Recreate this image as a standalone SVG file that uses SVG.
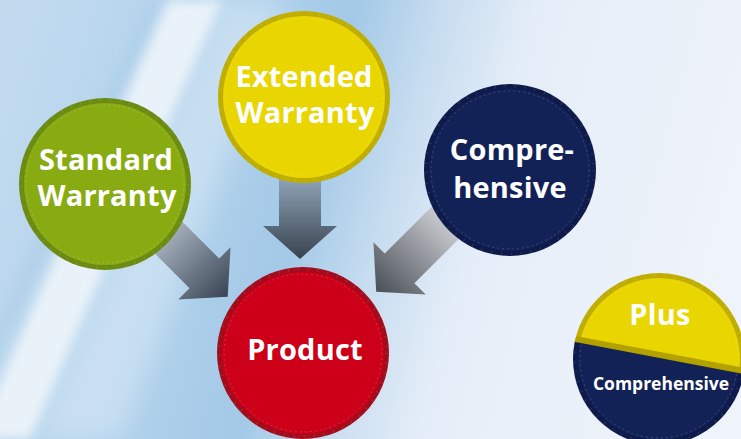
<svg xmlns="http://www.w3.org/2000/svg" width="741" height="439" viewBox="0 0 741 439">
<defs>
<linearGradient id="bgGrad" gradientUnits="userSpaceOnUse" x1="0" y1="0" x2="741" y2="203">
<stop offset="0" stop-color="#c3dbef"/>
<stop offset="0.3" stop-color="#b0d1eb"/>
<stop offset="0.45" stop-color="#a3c9e7"/>
<stop offset="0.56" stop-color="#c8ddf0"/>
<stop offset="0.68" stop-color="#e5eef8"/>
<stop offset="1" stop-color="#eff3fa"/>
</linearGradient>
<filter id="blur6" x="-50%" y="-20%" width="200%" height="140%"><feGaussianBlur stdDeviation="6"/></filter>
<filter id="blur14" x="-50%" y="-20%" width="200%" height="140%"><feGaussianBlur stdDeviation="14"/></filter>
<linearGradient id="gV" x1="0" y1="0" x2="0" y2="1">
<stop offset="0" stop-color="#93a7bb"/>
<stop offset="1" stop-color="#37424e"/>
</linearGradient>
<linearGradient id="gL" x1="0" y1="0" x2="0" y2="1">
<stop offset="0" stop-color="#b3bfca"/>
<stop offset="1" stop-color="#394554"/>
</linearGradient>
<linearGradient id="gR" x1="0" y1="0" x2="0" y2="1">
<stop offset="0" stop-color="#d4d8dc"/>
<stop offset="1" stop-color="#4a4f57"/>
</linearGradient>
<clipPath id="plusClip"><circle cx="659" cy="359" r="86"/></clipPath>
<clipPath id="topClip"><polygon points="540,250 760,250 760,376 540,334"/></clipPath>
<clipPath id="botClip"><polygon points="540,334 760,376 760,460 540,460"/></clipPath>
</defs>
<style>
.lbl{font-family:"Open Sans","DejaVu Sans",sans-serif;font-weight:bold;fill:#ffffff;text-anchor:middle}
.big{font-size:29px;letter-spacing:0.2px}
.small{font-size:17.5px}
.tick{fill:none;stroke:#ffffff;stroke-opacity:0.18;stroke-width:1;stroke-dasharray:2 3}
.tickR{fill:none;stroke:#ffffff;stroke-opacity:0.12;stroke-width:3;stroke-dasharray:1 9}
</style>

<g id="background">
<rect x="0" y="0" width="741" height="439" fill="url(#bgGrad)"/>
<polygon points="150,0 168,0 -42,439 -60,439" fill="#a6cae6" opacity="0.4" filter="url(#blur6)"/>
<polygon points="168,0 222,0 30,439 -25,439" fill="#ffffff" opacity="0.7" filter="url(#blur6)"/>
<polygon points="222,0 290,0 120,439 40,439" fill="#ffffff" opacity="0.3" filter="url(#blur14)"/>
</g>

<g id="connectors">
<path transform="translate(300,175)" d="M-21,0 H21 V51 H37 L0,84 L-37,51 H-21 Z" fill="url(#gV)"/>
<path transform="translate(157,226) rotate(-45)" d="M-21,0 H21 V67 H37 L0,100 L-37,67 H-21 Z" fill="url(#gL)"/>
<path transform="translate(454,214) rotate(45)" d="M-21,0 H21 V77 H37 L0,110 L-37,77 H-21 Z" fill="url(#gR)"/>
</g>

<g id="standard-warranty">
<circle cx="105" cy="184" r="86" fill="#6b8b12"/>
<circle cx="105" cy="184" r="84" class="tickR"/>
<circle cx="105" cy="184" r="81" fill="#89ab12"/>
<circle cx="105" cy="184" r="79" class="tick"/>
<text class="lbl big" x="106" y="170">Standard</text>
<text class="lbl big" x="107" y="206">Warranty</text>
</g>

<g id="extended-warranty">
<circle cx="304" cy="97" r="86" fill="#bfad00"/>
<circle cx="304" cy="97" r="84" class="tickR"/>
<circle cx="304" cy="97" r="81" fill="#e9d500"/>
<circle cx="304" cy="97" r="79" class="tick"/>
<text class="lbl big" x="304" y="87">Extended</text>
<text class="lbl big" x="305" y="123">Warranty</text>
</g>

<g id="comprehensive">
<circle cx="510" cy="170" r="86" fill="#0d1a4a"/>
<circle cx="510" cy="170" r="84" class="tickR"/>
<circle cx="510" cy="170" r="81" fill="#132256"/>
<circle cx="510" cy="170" r="79" class="tick"/>
<text class="lbl big" x="512" y="160">Compre-</text>
<text class="lbl big" x="510" y="198">hensive</text>
</g>

<g id="product">
<circle cx="303" cy="353" r="86" fill="#a30c1c"/>
<circle cx="303" cy="353" r="84" class="tickR"/>
<circle cx="303" cy="353" r="81" fill="#cc0019"/>
<circle cx="303" cy="353" r="79" class="tick"/>
<text class="lbl big" x="305" y="360">Product</text>
</g>

<g id="plus-comprehensive">
<g clip-path="url(#topClip)">
<circle cx="659" cy="359" r="86" fill="#bfad00"/>
<circle cx="659" cy="359" r="84" class="tickR"/>
<circle cx="659" cy="359" r="81" fill="#e9d500"/>
<circle cx="659" cy="359" r="79" class="tick"/>
</g>
<g clip-path="url(#botClip)">
<circle cx="659" cy="359" r="86" fill="#0d1a4a"/>
<circle cx="659" cy="359" r="84" class="tickR"/>
<circle cx="659" cy="359" r="81" fill="#132256"/>
<circle cx="659" cy="359" r="79" class="tick"/>
</g>
<line x1="560" y1="336" x2="760" y2="374" stroke="#b3a100" stroke-width="6" clip-path="url(#plusClip)"/>
<text class="lbl big" x="660" y="325">Plus</text>
<text class="lbl small" x="661" y="390">Comprehensive</text>
</g>
</svg>
